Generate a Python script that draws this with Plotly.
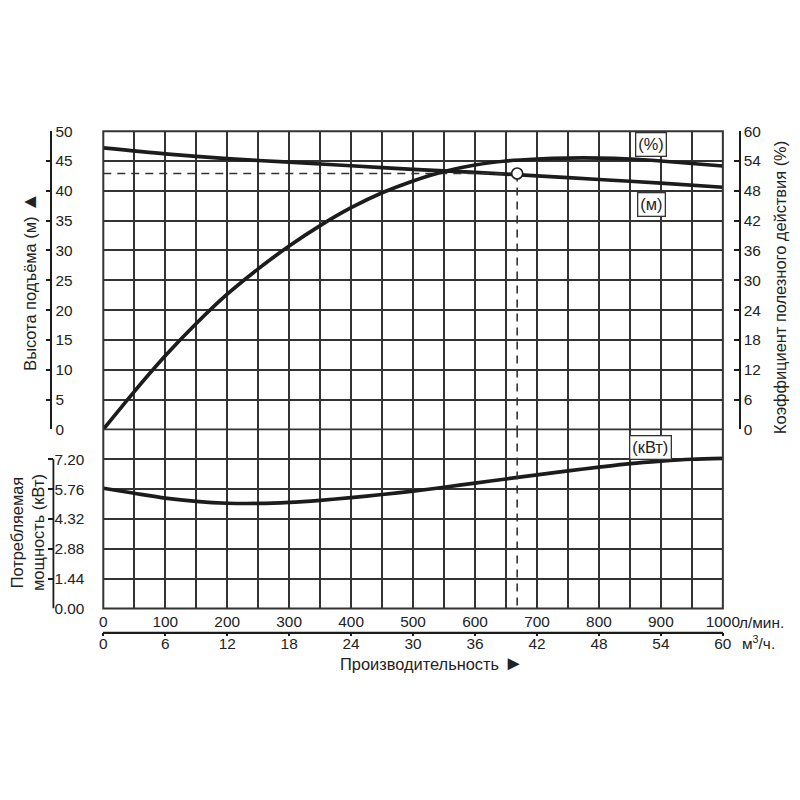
import plotly.graph_objects as go

# ---------------- data ----------------
FLOW_HEAD = [0, 100, 200, 300, 400, 500, 600, 700, 800, 900, 1000]
HEAD_M = [47.2, 46.2, 45.4, 44.8, 44.2, 43.6, 43.1, 42.5, 41.9, 41.3, 40.6]

FLOW_EFF = [0, 50, 100, 150, 200, 250, 300, 350, 400, 450, 500,
            550, 600, 650, 700, 750, 800, 850, 900, 950, 1000]
EFF_PCT = [0, 7.6, 14.8, 21.3, 27.2, 32.3, 36.9, 41.0, 44.6, 47.6, 50.0,
           51.9, 53.2, 54.0, 54.4, 54.6, 54.6, 54.4, 54.0, 53.5, 53.0]

FLOW_PWR = [0, 50, 100, 150, 200, 250, 300, 350, 400, 450, 500,
            550, 600, 650, 700, 750, 800, 850, 900, 950, 1000]
PWR_KW = [5.8, 5.56, 5.33, 5.17, 5.08, 5.07, 5.12, 5.22, 5.35, 5.5, 5.66,
          5.85, 6.05, 6.25, 6.45, 6.64, 6.82, 6.99, 7.11, 7.2, 7.24]

OP_FLOW = 668
OP_HEAD = 42.9

LPM_TICKS = [0, 100, 200, 300, 400, 500, 600, 700, 800, 900, 1000]
LPM_LABELS = ["0", "100", "200", "300", "400", "500", "600", "700", "800", "900", "1000"]
M3H_LABELS = ["0", "6", "12", "18", "24", "30", "36", "42", "48", "54", "60"]
HEAD_TICKS = [0, 5, 10, 15, 20, 25, 30, 35, 40, 45, 50]
EFF_TICKS = [0, 6, 12, 18, 24, 30, 36, 42, 48, 54, 60]
PWR_TICKS = [0.0, 1.44, 2.88, 4.32, 5.76, 7.20]
PWR_LABELS = ["0.00", "1.44", "2.88", "4.32", "5.76", "7.20"]

HEAD_RANGE = [0, 50]
EFF_RANGE = [0, 60]
PWR_RANGE = [0, 8.64]
FLOW_RANGE = [0, 1000]

# ---------------- layout geometry ----------------
W = H = 800
# the page is photographed slightly scaled/offset; map target pixels to paper coords
SX, OX = 0.976, 10.5
SY, OY = 0.978, 16.9
K = 1 / 0.977


def px(x):
    return (x - OX) / SX / W


def py(y):
    return 1 - (y - OY) / SY / H


def fs(s):
    return round(s * K, 1)


X0, X1 = px(102), px(723)
TOP_DOM = [py(429), py(131)]
BOT_DOM = [py(608), py(429)]

FONT = "Liberation Sans, Arial, sans-serif"
INK = "#1c1c1c"
GRID = "#333333"
GW = 1.9

fig = go.Figure()

curve = dict(color=INK, width=3.7, shape="spline", smoothing=0.8)

fig.add_trace(go.Scatter(x=FLOW_HEAD, y=HEAD_M, mode="lines", line=curve,
                         xaxis="x2", yaxis="y", showlegend=False, hoverinfo="skip"))
fig.add_trace(go.Scatter(x=FLOW_EFF, y=EFF_PCT, mode="lines", line=curve,
                         xaxis="x2", yaxis="y2", showlegend=False, hoverinfo="skip"))
fig.add_trace(go.Scatter(x=FLOW_PWR, y=PWR_KW, mode="lines", line=curve,
                         xaxis="x", yaxis="y3", showlegend=False, hoverinfo="skip"))

dash = dict(color="#333333", width=1.6, dash="8px,6px")
fig.add_trace(go.Scatter(x=[0, OP_FLOW], y=[OP_HEAD, OP_HEAD], mode="lines", line=dash,
                         xaxis="x2", yaxis="y", showlegend=False, hoverinfo="skip"))
fig.add_trace(go.Scatter(x=[OP_FLOW, OP_FLOW], y=[OP_HEAD, HEAD_RANGE[0]], mode="lines", line=dash,
                         xaxis="x2", yaxis="y", showlegend=False, hoverinfo="skip"))
fig.add_trace(go.Scatter(x=[OP_FLOW, OP_FLOW], y=[PWR_RANGE[1], PWR_RANGE[0]], mode="lines", line=dash,
                         xaxis="x", yaxis="y3", showlegend=False, hoverinfo="skip"))
fig.add_trace(go.Scatter(x=[OP_FLOW], y=[OP_HEAD], mode="markers",
                         marker=dict(size=11, color="white", line=dict(color=INK, width=1.6)),
                         xaxis="x2", yaxis="y", showlegend=False, hoverinfo="skip"))
# carrier for the m3/h axis
fig.add_trace(go.Scatter(x=[None], y=[None], mode="lines", xaxis="x3", yaxis="y3",
                         showlegend=False, hoverinfo="skip"))

tickfont = dict(family=FONT, size=fs(15), color="#222")

grid_common = dict(showgrid=True, gridcolor=GRID, gridwidth=GW, zeroline=False)
minor_grid = dict(dtick=50, showgrid=True, gridcolor=GRID, gridwidth=GW)

fig.update_layout(
    width=W, height=H,
    margin=dict(l=0, r=0, t=0, b=0),
    paper_bgcolor="white", plot_bgcolor="white",
    font=dict(family=FONT, color="#222"),
    xaxis=dict(domain=[X0, X1], anchor="y3", range=FLOW_RANGE,
               tickvals=LPM_TICKS, ticktext=LPM_LABELS, ticks="", tickfont=tickfont,
               ticklabelstandoff=2,
               minor=minor_grid, showline=False, **grid_common),
    xaxis2=dict(domain=[X0, X1], anchor="y", range=FLOW_RANGE, matches="x",
                tickvals=LPM_TICKS, showticklabels=False, ticks="",
                minor=minor_grid, showline=False, **grid_common),
    xaxis3=dict(overlaying="x", anchor="free", position=py(632), side="bottom",
                range=FLOW_RANGE, tickvals=LPM_TICKS, ticktext=M3H_LABELS,
                ticks="outside", ticklen=3, tickwidth=1.6, tickcolor=INK,
                ticklabelstandoff=-6,
                showline=True, linecolor=INK, linewidth=1.6,
                showgrid=False, zeroline=False, tickfont=tickfont),
    yaxis=dict(domain=TOP_DOM, anchor="free", position=px(50), side="right",
               range=HEAD_RANGE, tickvals=HEAD_TICKS, ticks="inside", ticklen=5,
               tickwidth=1.5, tickcolor=INK, showline=True, linecolor=INK, linewidth=1.8,
               tickfont=tickfont, **grid_common),
    yaxis2=dict(overlaying="y", anchor="free", position=px(740), side="right",
                range=EFF_RANGE, tickvals=EFF_TICKS, ticks="inside", ticklen=5,
                tickwidth=1.5, tickcolor=INK, showline=True, linecolor=INK, linewidth=1.8,
                showgrid=False, zeroline=False, tickfont=tickfont),
    yaxis3=dict(domain=BOT_DOM, anchor="free", position=px(52), side="right",
                range=PWR_RANGE, tickvals=PWR_TICKS, ticktext=PWR_LABELS,
                ticks="inside", ticklen=5, tickwidth=1.5, tickcolor=INK,
                showline=False, tickfont=tickfont, **grid_common),
)

shapes = [
    dict(type="rect", xref="paper", yref="paper", x0=X0, x1=X1, y0=BOT_DOM[0], y1=TOP_DOM[1],
         line=dict(color=GRID, width=2)),
    dict(type="line", xref="paper", yref="paper", x0=X0, x1=X1, y0=TOP_DOM[0], y1=TOP_DOM[0],
         line=dict(color=GRID, width=GW)),
    dict(type="line", xref="paper", yref="y3", x0=px(52), x1=px(52), y0=PWR_TICKS[0], y1=PWR_TICKS[-1],
         line=dict(color=INK, width=1.8)),
    # m3/h scale line
    dict(type="line", xref="paper", yref="paper", x0=X0, x1=X1, y0=py(632), y1=py(632),
         line=dict(color=INK, width=1.6)),
]
fig.update_layout(shapes=shapes)

ann = []
title_font = dict(family=FONT, size=fs(16), color="#222")
big = "<span style='font-size:%dpx'>%s</span>"
ann.append(dict(text="Высота подъёма (м) " + big % (int(fs(20)), "▲"), xref="paper", yref="paper",
                x=px(28), y=py(281), textangle=-90, showarrow=False, font=title_font,
                xanchor="center", yanchor="middle"))
ann.append(dict(text="Коэффициент полезного действия (%)", xref="paper", yref="paper",
                x=px(781), y=py(287), textangle=-90, showarrow=False, font=title_font,
                xanchor="center", yanchor="middle"))
ann.append(dict(text="Потребляемая<br>мощность (кВт)", xref="paper", yref="paper",
                x=px(26), y=py(532), textangle=-90, showarrow=False, font=title_font,
                xanchor="center", yanchor="middle"))
ann.append(dict(text="Производительность " + big % (int(fs(20)), "►"), xref="paper", yref="paper",
                x=px(431), y=py(662), showarrow=False, font=title_font,
                xanchor="center", yanchor="middle"))
ann.append(dict(text="л/мин.", xref="paper", yref="paper",
                x=px(737), y=py(622), showarrow=False, font=tickfont,
                xanchor="left", yanchor="middle"))
ann.append(dict(text="м<sup>3</sup>/ч.", xref="paper", yref="paper",
                x=px(740), y=py(642), showarrow=False, font=tickfont,
                xanchor="left", yanchor="middle"))

box = dict(showarrow=False, bordercolor="#333", borderwidth=1.3, bgcolor="white",
           borderpad=2, xanchor="center", yanchor="middle",
           font=dict(family=FONT, size=fs(16), color="#222"))
ann.append(dict(text="(%)", xref="paper", yref="paper", x=px(651), y=py(144), **box))
ann.append(dict(text="(м)", xref="paper", yref="paper", x=px(651), y=py(204), **box))
ann.append(dict(text="(кВт)", xref="paper", yref="paper", x=px(650), y=py(447), **box))
fig.update_layout(annotations=ann)

fig.write_html("out.html")
